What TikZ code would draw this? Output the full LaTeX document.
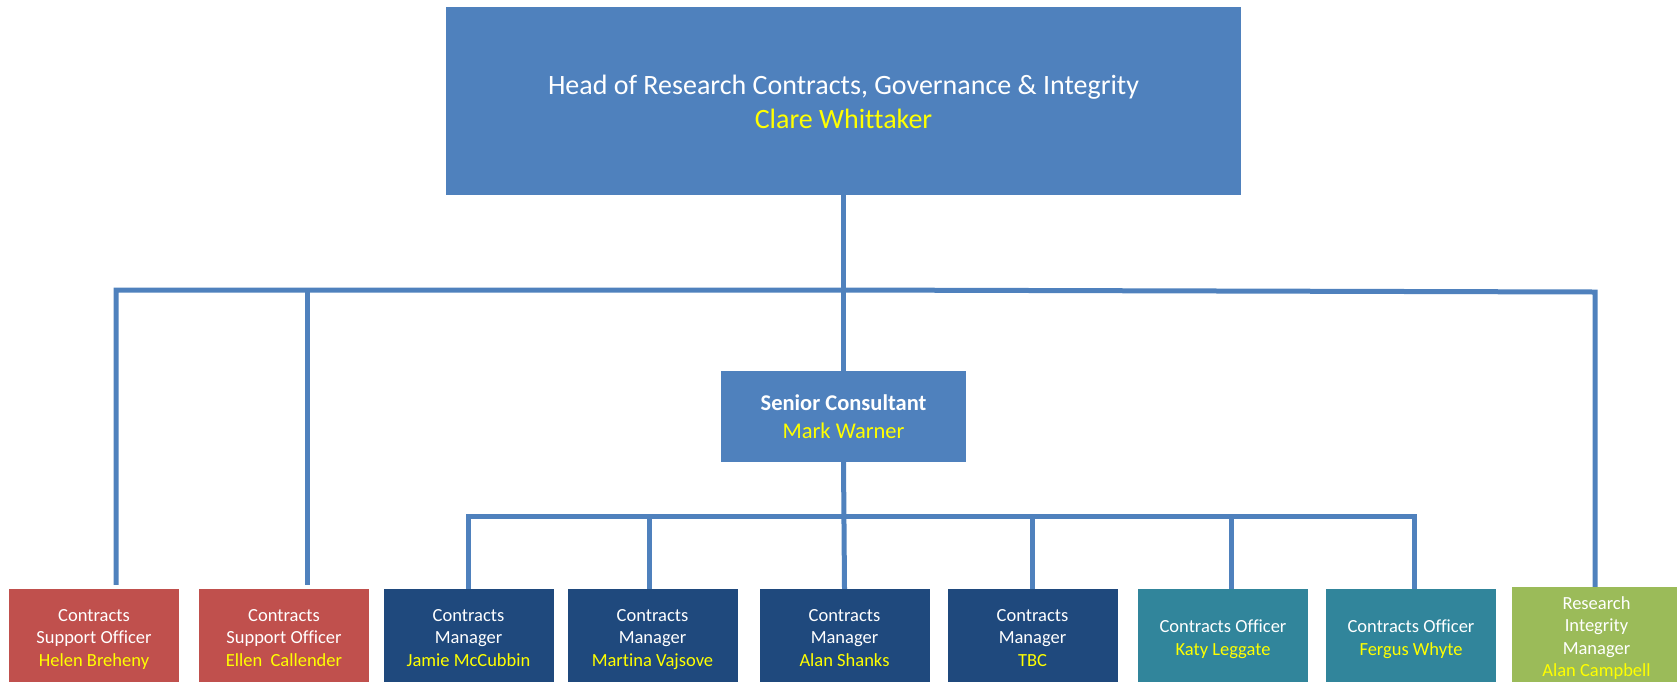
\documentclass[tikz,border=0pt]{standalone}
\usepackage{fontspec}
\setmainfont{Carlito}[Ligatures=NoCommon]
\usepackage{xcolor}
\usepackage{tikz}
\usetikzlibrary{positioning}
\definecolor{orgBlue}{RGB}{79, 129, 189}
\definecolor{orgRed}{RGB}{192, 80, 77}
\definecolor{orgNavy}{RGB}{31, 73, 125}
\definecolor{orgTeal}{RGB}{49, 133, 155}
\definecolor{orgGreen}{RGB}{155, 187, 89}
\definecolor{orgYellow}{RGB}{255, 255, 0}
\newcommand{\lift}{\rule{0pt}{0.9\baselineskip}}
\newcommand{\who}[1]{{\color{orgYellow}#1\strut}}
\tikzset{
    base/.style={
        align=center,
        text=white,
        inner sep=0pt
    },
    chief/.style={
        base,
        rectangle,
        fill=orgBlue,
        minimum width=795pt,
        minimum height=188pt,
        font=\fontsize{28}{34}\selectfont
    },
    lead/.style={
        base,
        rectangle,
        fill=orgBlue,
        minimum width=245pt,
        minimum height=91pt,
        font=\fontsize{22.5}{28}\selectfont
    },
    role/.style={
        base,
        rectangle,
        minimum width=170pt,
        minimum height=96pt,
        font=\fontsize{18.5}{22.5}\selectfont
    },
    support/.style={
        role,
        fill=orgRed
    },
    manager/.style={
        role,
        fill=orgNavy
    },
    officer/.style={
        role,
        fill=orgTeal
    },
    integrity/.style={
        role,
        fill=orgGreen,
        minimum height=98pt
    },
    link/.style={
        draw=orgBlue,
        line width=5pt
    }
}

\begin{document}
\begin{tikzpicture}[x=1pt, y=-1pt]
  \useasboundingbox (0,0) rectangle (1677,681);

  % Head and senior consultant
  \node[chief] (head) at (843.5,101) {\lift Head of Research Contracts, Governance \& Integrity\\ \who{Clare Whittaker}};
  \node[lead] (senior) at (843.5,416.5) {\lift\textbf{Senior Consultant}\\ \who{Mark Warner}};

  % Staff
  \node[support] (b1) at (94,637) {\lift Contracts\\ Support Officer\\ \who{Helen Breheny}};
  \node[support] (b2) at (284,637) {\lift Contracts\\ Support Officer\\ \who{Ellen~~Callender}};
  \node[manager] (b3) at (468.5,637) {\lift Contracts\\ Manager\\ \who{Jamie McCubbin}};
  \node[manager] (b4) at (652.5,637) {\lift Contracts\\ Manager\\ \who{Martina Vajsove}};
  \node[manager] (b5) at (844.5,637) {\lift Contracts\\ Manager\\ \who{Alan Shanks}};
  \node[manager] (b6) at (1032.5,637) {\lift Contracts\\ Manager\\ \who{TBC}};
  \node[officer] (b7) at (1223,637) {\lift Contracts Officer\\ \who{Katy Leggate}};
  \node[officer] (b8) at (1411,637) {\lift Contracts Officer\\ \who{Fergus Whyte}};
  \node[integrity] (b9) at (1596.5,636) {\lift Research\\ Integrity\\ Manager\\ \who{Alan Campbell}};

  % Upper tier
  \coordinate (hub) at (844,290);
  \coordinate (hubL) at (116,290);
  \coordinate (hubR) at (1595,292);
  \coordinate (tapB) at (307,290);
  \draw[link] (head.south) -- (senior.north);
  \draw[link, shorten <=4pt] (b1.north -| hubL) -- (hubL) -- (hub) -- (hubR) -- (b9.north -| hubR);
  \draw[link, shorten <=4pt] (b2.north -| tapB) -- (tapB);

  % Lower tier
  \coordinate (railL) at (468,516.5);
  \coordinate (railR) at (1414,516.5);
  \draw[link] (senior.south) -- (b5.north);
  \draw[link] (b3.north -| railL) -- (railL) -- (railR) -- (b8.north -| railR);
  \foreach \x/\n in {649/b4, 1032/b6, 1231/b7} {
    \coordinate (tap\n) at (\x,516.5);
    \draw[link] (tap\n) -- (\n.north -| tap\n);
  }
\end{tikzpicture}
\end{document}
